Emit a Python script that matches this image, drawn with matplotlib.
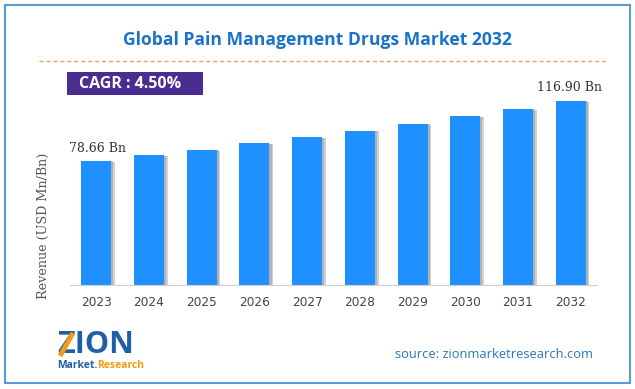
import matplotlib
matplotlib.use("Agg")
import matplotlib.pyplot as plt
from matplotlib.patches import Rectangle
from matplotlib.lines import Line2D

years = ["2023", "2024", "2025", "2026", "2027", "2028", "2029", "2030", "2031", "2032"]
revenue = [78.66, 82.2, 85.9, 89.8, 93.8, 98.0, 102.4, 107.1, 111.9, 116.90]
first_label = "78.66 Bn"
last_label = "116.90 Bn"
cagr = "CAGR : 4.50%"

W, H = 635, 389
fig = plt.figure(figsize=(W / 100, H / 100), dpi=100)
fig.patch.set_facecolor("white")


def fx(px):
    return px / W


def fy(py):
    return 1 - py / H


# outer border
fig.add_artist(Rectangle((fx(5), fy(383)), fx(625), (378) / H, transform=fig.transFigure,
                         fill=False, edgecolor="#5b9bd5", lw=1.5))

# title + dashed rule
fig.text(fx(317), fy(40), "Global Pain Management Drugs Market 2032", ha="center", va="center",
         fontsize=12.6, fontweight="bold", color="#1a73c8", family="Open Sans")
fig.add_artist(Line2D([fx(39), fx(605)], [fy(61), fy(61)], transform=fig.transFigure,
                      color="#f4a261", lw=1, ls=(0, (3, 2))))

# CAGR box
fig.add_artist(Rectangle((fx(67), fy(95)), fx(136), 23 / H, transform=fig.transFigure,
                         facecolor="#4b2c91", edgecolor="none"))
fig.text(fx(79), fy(84), cagr, ha="left", va="center", fontsize=11.5, fontweight="bold",
         color="white", family="Open Sans")

# bar chart
ax = fig.add_axes([fx(70), fy(285), fx(527), 215 / H])
x = list(range(len(years)))
ax.bar([i + 0.07 for i in x], [v - 0.6 for v in revenue], width=0.57, color="#9a9a9a", alpha=0.45, zorder=1)
ax.bar([i + 0.04 for i in x], [v - 0.3 for v in revenue], width=0.57, color="#777777", alpha=0.35, zorder=1)
ax.bar(x, revenue, width=0.57, color="#1e90ff", zorder=2)
ax.set_xlim(-0.5, 9.5)
ax.set_ylim(0, 136.4)
ax.set_xticks(x)
ax.set_xticklabels(years, fontsize=8.7, color="#444444")
ax.set_yticks([])
for s in ["top", "right", "left"]:
    ax.spines[s].set_visible(False)
ax.spines["bottom"].set_color("#d0d0d0")
ax.tick_params(axis="x", length=0, pad=8)

fig.text(fx(43), fy(226), "Revenue (USD Mn/Bn)", rotation=90, ha="center", va="center",
         family="DejaVu Serif", fontsize=9.2, color="#555555")

ax.text(x[0] - 0.52, revenue[0] + 4, first_label, ha="left", va="bottom", family="DejaVu Serif",
        fontsize=9, color="#333333")
ax.text(x[-1] - 0.02, revenue[-1] + 4, last_label, ha="center", va="bottom", family="DejaVu Serif",
        fontsize=9, color="#333333")

# logo
fig.text(fx(57), fy(345), "ZION", ha="left", va="center", fontsize=22, fontweight="bold",
         color="#1f5fa8", family="Open Sans")
fig.add_artist(Line2D([fx(60), fx(73)], [fy(356), fy(333)], transform=fig.transFigure,
                      color="#f39c12", lw=3.5, solid_capstyle="butt", zorder=5))
r = fig.canvas.get_renderer()
t1 = fig.text(fx(57), fy(365), "Market.", ha="left", va="center", fontsize=7.5, fontweight="bold",
              color="#1f5fa8", family="Open Sans")
bb = t1.get_window_extent(renderer=r)
fig.text(bb.x1 / W, fy(365), "Research", ha="left", va="center", fontsize=7.5, fontweight="bold",
         color="#f39c12", family="Open Sans")

fig.text(fx(593), fy(354), "source: zionmarketresearch.com", ha="right", va="center",
         fontsize=9.3, color="#2e75b6", family="Open Sans")

fig.savefig("out.png", dpi=100)
